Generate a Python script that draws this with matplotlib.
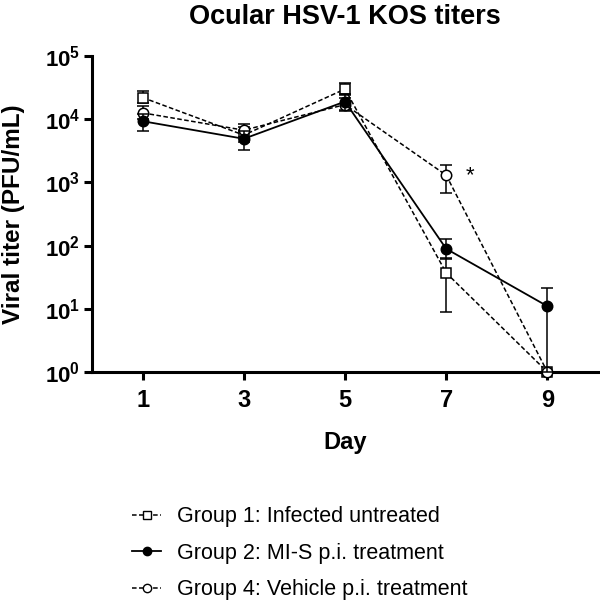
import matplotlib
matplotlib.use("Agg")
import matplotlib.pyplot as plt
from matplotlib.lines import Line2D
import numpy as np

plt.rcParams['font.family'] = ['Liberation Sans', 'DejaVu Sans']
plt.rcParams['mathtext.fontset'] = 'custom'
plt.rcParams['mathtext.rm'] = 'Liberation Sans:bold'
plt.rcParams['mathtext.bf'] = 'Liberation Sans:bold'

days = [1, 3, 5, 7, 9]

g1_label = "Group 1: Infected untreated"
g1_mean = [2.2e4, 5.6e3, 3.0e4, 37, 1]
g1_upper = [2.8e4, 7.5e3, 3.7e4, 63, 1]
g1_lower = [1.8e4, 4.3e3, 2.4e4, 9, 1]

g2_label = "Group 2: MI-S p.i. treatment"
g2_mean = [9.3e3, 4.9e3, 1.9e4, 89, 11]
g2_upper = [1.2e4, 6.5e3, 2.5e4, 127, 21]
g2_lower = [6.5e3, 3.3e3, 1.35e4, 62, 1]

g4_label = "Group 4: Vehicle p.i. treatment"
g4_mean = [1.26e4, 6.7e3, 1.7e4, 1300, 1]
g4_upper = [1.6e4, 8.4e3, 2.2e4, 1900, 1]
g4_lower = [1.0e4, 5.3e3, 1.4e4, 680, 1]

y_ticks = [1, 10, 100, 1000, 1e4, 1e5]
y_tick_labels = [r'$\mathbf{10^{0}}$', r'$\mathbf{10^{1}}$', r'$\mathbf{10^{2}}$',
                 r'$\mathbf{10^{3}}$', r'$\mathbf{10^{4}}$', r'$\mathbf{10^{5}}$']

fig = plt.figure(figsize=(6.0, 6.05), dpi=100)
ax = fig.add_axes([92/600, 1-372/605, (598-92)/600, (372-56)/605])

dash = (0, (3.0, 1.6))
MS = 7.5

def draw(mean, up, lo, marker, mfc, ls, lw, z):
    mean = np.array(mean); up = np.array(up); lo = np.array(lo)
    yerr = np.vstack([mean - lo, up - mean])
    cont = ax.errorbar(days, mean, yerr=yerr, fmt=marker, ls=ls, color='black',
                       mfc=mfc, mec='black', ms=MS, mew=1.1, lw=lw,
                       elinewidth=1.1, capsize=4.5, capthick=1.1,
                       zorder=z, clip_on=False)
    for cap in cont.lines[1]:
        cap.set_clip_on(False)
    for coll in cont.lines[2]:
        coll.set_clip_on(False)
    return cont

draw(g1_mean, g1_upper, g1_lower, 's', 'white', dash, 1.1, 3)
draw(g2_mean, g2_upper, g2_lower, 'o', 'black', '-', 1.3, 5)
draw(g4_mean, g4_upper, g4_lower, 'o', 'white', dash, 1.1, 4)

ax.text(7.47, 1300, '*', fontsize=16, ha='center', va='center')

ax.set_yscale('log')
ax.set_ylim(1, 1e5)
ax.set_xlim(0, 10)
ax.set_yticks(y_ticks)
ax.set_yticklabels(y_tick_labels)
ax.yaxis.set_minor_locator(matplotlib.ticker.NullLocator())
ax.set_xticks(days)
ax.set_xticklabels([str(d) for d in days], fontweight='bold')
ax.tick_params(axis='x', labelsize=17, width=2.2, length=6, direction='out', pad=6)
ax.tick_params(axis='y', labelsize=16, width=2.2, length=5.5, direction='out', pad=3)
for s in ['top', 'right']:
    ax.spines[s].set_visible(False)
for s in ['left', 'bottom']:
    ax.spines[s].set_linewidth(2.2)

ax.set_xlabel('Day', fontsize=17, fontweight='bold', labelpad=14)
ax.set_ylabel('Viral titer (PFU/mL)', fontsize=17.5, fontweight='bold')
ax.yaxis.set_label_coords(-0.132, 0.5)
ax.set_title('Ocular HSV-1 KOS titers', fontsize=19.5, fontweight='bold', pad=23)

handles = [
    Line2D([], [], color='black', ls=dash, lw=1.1, marker='s', mfc='white', mec='black', ms=6, mew=1.0),
    Line2D([], [], color='black', ls='-', lw=1.3, marker='o', mfc='black', mec='black', ms=6, mew=1.0),
    Line2D([], [], color='black', ls=dash, lw=1.1, marker='o', mfc='white', mec='black', ms=6, mew=1.0),
]
fig.legend(handles=handles, labels=[g1_label, g2_label, g4_label],
           loc='upper left', bbox_to_anchor=(113/600, 1-487/605),
           frameon=False, fontsize=15.5, handlelength=1.35, handletextpad=0.7,
           labelspacing=0.72)

fig.savefig('out.png', dpi=100)
